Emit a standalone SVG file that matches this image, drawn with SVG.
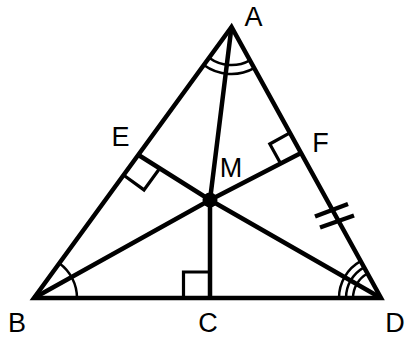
<svg xmlns="http://www.w3.org/2000/svg" width="406" height="338" viewBox="0 0 406 338">
<style>
.edge{fill:none;stroke:#000;stroke-width:4.5;stroke-linejoin:miter;stroke-linecap:butt}
.sq{fill:none;stroke:#000;stroke-width:3.2;stroke-linejoin:miter}
.arc{fill:none;stroke:#000;stroke-width:2.5}
.lbl{font-family:"Liberation Sans","Open Sans",sans-serif;font-size:27px;fill:#000;text-anchor:middle}
</style>
<rect width="406" height="338" fill="#fff"/>
<g id="connectors">
<polygon class="edge" points="231.5,27 34,298 381,298"/>
<polyline class="edge" points="231.5,27 210,200 210,298"/>
<polyline class="edge" points="34,298 210,200 301,153"/>
<polyline class="edge" points="381,298 210,200 138.5,155"/>
<polyline class="sq" points="123.8,175.2 144.0,189.9 158.7,169.7"/>
<polyline class="sq" points="289.9,132.9 269.8,144.0 280.9,164.1"/>
<polyline class="sq" points="183.5,298 183.5,272 210,272"/>
<path class="arc" d="M77,298 A43,43 0 0 0 59.3,263.3"/>
<path class="arc" d="M209.1,57.7 A38,38 0 0 0 249.9,60.3"/>
<path class="arc" d="M203.8,65 A47,47 0 0 0 254.2,68.2"/>
<path class="arc" d="M339,298 A42,42 0 0 1 360.7,261.2"/>
<path class="arc" d="M346,298 A35,35 0 0 1 364.1,267.3"/>
<path class="arc" d="M353,298 A28,28 0 0 1 367.5,273.5"/>
<line class="edge" x1="315" y1="216.5" x2="348" y2="204"/>
<line class="edge" x1="320" y1="227.5" x2="354" y2="215.5"/>
</g>
<g id="M"><circle cx="210" cy="200" r="7.5" fill="#000"/><text class="lbl" x="231" y="177">M</text></g>
<g id="A"><text class="lbl" x="253.5" y="25.5">A</text></g>
<g id="B"><text class="lbl" x="17" y="332">B</text></g>
<g id="C"><text class="lbl" x="208" y="332">C</text></g>
<g id="D"><text class="lbl" x="395" y="332">D</text></g>
<g id="E"><text class="lbl" x="120.5" y="146">E</text></g>
<g id="F"><text class="lbl" x="320.5" y="152">F</text></g>
</svg>
